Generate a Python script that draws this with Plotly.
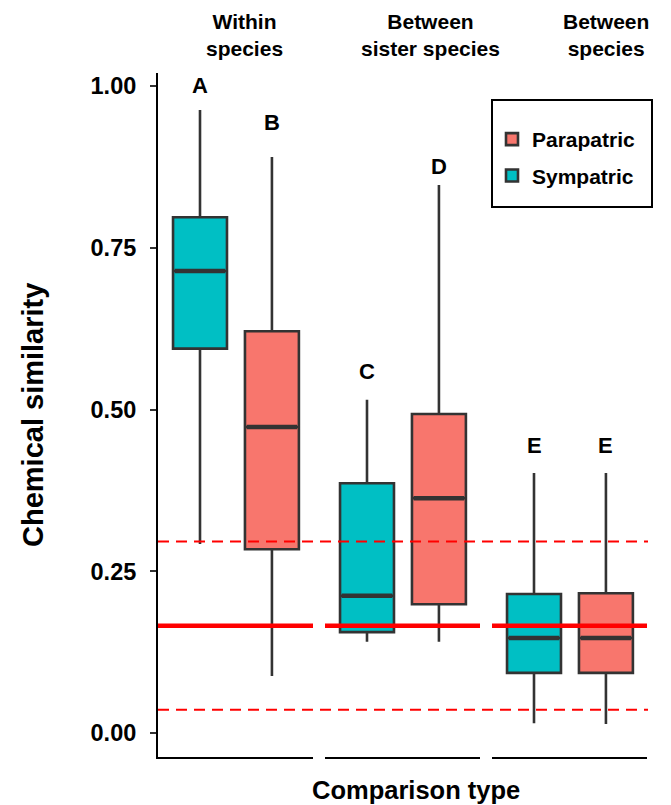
import plotly.graph_objects as go

groups = ["Within<br>species", "Between<br>sister species", "Between<br>species"]
series = ["Sympatric", "Parapatric"]

sym_low = [0.292, 0.141, 0.015]
sym_q1 = [0.594, 0.156, 0.093]
sym_med = [0.714, 0.212, 0.147]
sym_q3 = [0.797, 0.386, 0.215]
sym_up = [0.963, 0.515, 0.402]
sym_letters = ["A", "C", "E"]
sym_letter_y = [1.000, 0.558, 0.445]

par_low = [0.088, 0.141, 0.014]
par_q1 = [0.284, 0.199, 0.093]
par_med = [0.473, 0.363, 0.147]
par_q3 = [0.621, 0.493, 0.216]
par_up = [0.890, 0.847, 0.402]
par_letters = ["B", "D", "E"]
par_letter_y = [0.944, 0.875, 0.445]

null_mean = 0.166
null_lo = 0.036
null_hi = 0.296

sym_color = "#00BFC4"
par_color = "#F8766D"
line_col = "#333333"
FONT = "Liberation Sans, Arial, sans-serif"

fig = go.Figure()
xnames = ["x", "x2", "x3"]
for i in range(3):
    for nm, col, q1, med, q3, lo, up, rank in [
        ("Sympatric", sym_color, sym_q1, sym_med, sym_q3, sym_low, sym_up, 2),
        ("Parapatric", par_color, par_q1, par_med, par_q3, par_low, par_up, 1),
    ]:
        fig.add_trace(go.Box(
            x=[nm], q1=[q1[i]], median=[med[i]], q3=[q3[i]],
            lowerfence=[lo[i]], upperfence=[up[i]],
            name=nm, legendgroup=nm, showlegend=(i == 0),
            fillcolor=col, line=dict(color=line_col, width=2.6), whiskerwidth=0,
            width=0.75, xaxis=xnames[i], yaxis="y", legendrank=rank, hoverinfo="skip"))
        # thicker median bar (ggplot style)
        fig.add_trace(go.Box(
            x=[nm], q1=[med[i]], median=[med[i]], q3=[med[i]],
            lowerfence=[med[i]], upperfence=[med[i]],
            name=nm, legendgroup=nm, showlegend=False,
            fillcolor="rgba(0,0,0,0)", line=dict(color=line_col, width=4.5), whiskerwidth=0,
            width=0.70, xaxis=xnames[i], yaxis="y", hoverinfo="skip"))

W = 490.0
H = 684.0
seg = 155.0
gap = 12.0
domains = [[0, seg / W], [(seg + gap) / W, (2 * seg + gap) / W], [(2 * seg + 2 * gap) / W, (3 * seg + 2 * gap) / W]]

def px_x(p):
    return (p - 158) / W

def px_y(p):
    return 1 - (p - 73) / H

layout = dict(
    width=671, height=805,
    margin=dict(l=150, r=31, t=65, b=56),
    paper_bgcolor="white", plot_bgcolor="white",
    showlegend=True,
    boxmode="overlay",
    font=dict(family=FONT, color="black"),
    legend=dict(x=px_x(492), y=px_y(119), xanchor="left", yanchor="top",
                borderwidth=0, bgcolor="rgba(0,0,0,0)",
                font=dict(family=FONT, size=21, color="black", weight="bold"),
                itemwidth=30, tracegroupgap=6),
    yaxis=dict(range=[-0.037, 1.02], tickvals=[0, 0.25, 0.5, 0.75, 1.0],
               ticktext=["0.00", "0.25", "0.50", "0.75", "1.00"],
               showgrid=False, zeroline=False, showline=True, linecolor="black", linewidth=2,
               ticks="outside", ticklen=6, tickwidth=2, tickcolor="#333333",
               ticklabelstandoff=9,
               tickfont=dict(family=FONT, size=23.5, color="black", weight="bold"),
               anchor="x"),
)
for i, name in enumerate(["xaxis", "xaxis2", "xaxis3"]):
    layout[name] = dict(domain=domains[i], type="category",
                        categoryorder="array", categoryarray=series,
                        range=[-0.584, 1.571], showticklabels=False, ticks="",
                        showgrid=False, zeroline=False, showline=True,
                        linecolor="black", linewidth=2, anchor="y")
fig.update_layout(**layout)

shapes = []
for i, xn in enumerate(xnames):
    shapes.append(dict(type="line", xref=xn + " domain", yref="y", x0=0, x1=1,
                       y0=null_mean, y1=null_mean, line=dict(color="red", width=4.5)))
for v in [null_lo, null_hi]:
    shapes.append(dict(type="line", xref="paper", yref="y", x0=0, x1=1,
                       y0=v, y1=v, line=dict(color="red", width=2.2, dash="11px,7px")))
shapes.append(dict(type="rect", xref="paper", yref="paper",
                   x0=px_x(492), x1=px_x(652), y0=px_y(207), y1=px_y(100),
                   line=dict(color="black", width=2), fillcolor="rgba(0,0,0,0)"))
fig.update_layout(shapes=shapes)

header_px = [244, 430, 606]
ann = []
for i, xn in enumerate(xnames):
    ann.append(dict(xref=xn, yref="y", x="Sympatric", y=sym_letter_y[i],
                    text=sym_letters[i], showarrow=False, yanchor="middle",
                    font=dict(family=FONT, size=22, color="black", weight="bold")))
    ann.append(dict(xref=xn, yref="y", x="Parapatric", y=par_letter_y[i],
                    text=par_letters[i], showarrow=False, yanchor="middle",
                    font=dict(family=FONT, size=22, color="black", weight="bold")))
    ann.append(dict(xref="paper", yref="paper", x=px_x(header_px[i]), y=px_y(35),
                    xanchor="center", yanchor="middle", text=groups[i], showarrow=False,
                    font=dict(family=FONT, size=21, color="black", weight="bold")))
ann.append(dict(xref="paper", yref="paper", x=px_x(416), y=px_y(790),
                xanchor="center", yanchor="middle",
                text="Comparison type", showarrow=False,
                font=dict(family=FONT, size=25.5, color="black", weight="bold")))
ann.append(dict(xref="paper", yref="paper", x=px_x(33), y=0.5, textangle=-90,
                xanchor="center", yanchor="middle",
                text="Chemical similarity", showarrow=False,
                font=dict(family=FONT, size=29, color="black", weight="bold")))
fig.update_layout(annotations=ann)

fig.write_html("out.html")
